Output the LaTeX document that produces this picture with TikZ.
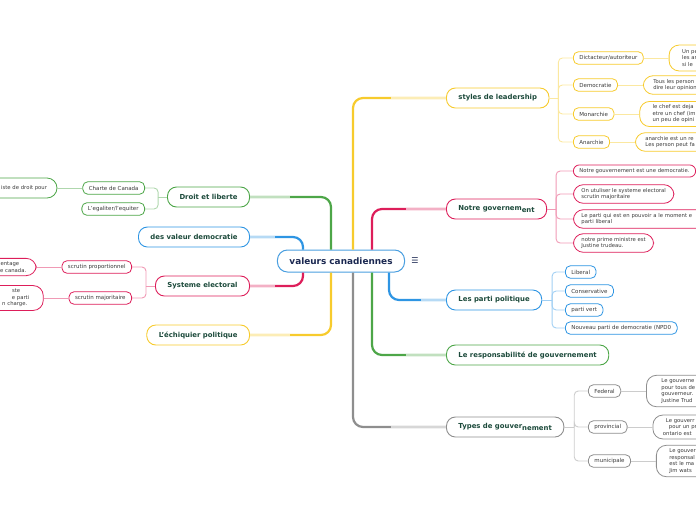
\documentclass[tikz,border=0pt]{standalone}
\usepackage{fontspec}
\setmainfont{DejaVu Sans}
\usetikzlibrary{positioning}
\definecolor{mmYellow}{HTML}{F7CB2D}
\definecolor{mmRed}{HTML}{DD1E5A}
\definecolor{mmBlue}{HTML}{2E95E3}
\definecolor{mmGreen}{HTML}{4DA648}
\definecolor{mmGray}{HTML}{8E8E8E}
\definecolor{rootBlue}{HTML}{4A9FE0}
\definecolor{textGreen}{HTML}{1C4A3B}
\definecolor{textNavy}{HTML}{1B2851}
\definecolor{textDark}{HTML}{3A3A3A}

\begin{document}
\begin{tikzpicture}[x=1pt, y=-1pt,
    root/.style={rectangle, rounded corners=10pt, draw=rootBlue, fill=white,
      line width=1pt, minimum height=22pt, inner xsep=12pt,
      font=\fontsize{8.9}{10}\selectfont\bfseries, text=textNavy},
    topic/.style={rectangle, rounded corners=9pt, draw=#1, fill=white,
      line width=0.9pt, minimum height=20pt, inner xsep=12pt,
      font=\fontsize{6.9}{8}\selectfont\bfseries, text=textGreen},
    sub/.style={rectangle, rounded corners=5pt, draw=#1, fill=white,
      line width=0.8pt, minimum height=12.5pt, inner xsep=6pt,
      font=\fontsize{5.5}{6.5}\selectfont, text=textDark},
    note/.style={rectangle, rounded corners=10pt, draw=#1, fill=white,
      line width=0.8pt, inner xsep=10pt, inner ysep=3.5pt, align=left,
      font=\fontsize{5.3}{6.5}\selectfont, text=textDark},
    trunk/.style={line width=2.2pt, rounded corners=10pt, #1},
    pale/.style={preaction={draw=white, line width=2.6pt}, line width=1.4pt, #1!35},
    br/.style={line width=0.9pt, rounded corners=4pt, #1!45}]
    \useasboundingbox (0,0) rectangle (696,520);
    \clip (0,0) rectangle (696,520);

    \node[root] (root) at (341,261) {valeurs canadiennes};
    \node[right=5pt of root, inner sep=1pt, font=\fontsize{8}{8}\selectfont, text=textNavy] (menu) {☰};

    % right side
    \node[topic=mmYellow, anchor=west] (lead) at (446,98) {styles de leadership};
    \node[topic=mmRed, anchor=west] (gov) at (446,209) {Notre governem\raisebox{-1.5pt}{ent}};
    \node[topic=mmBlue, anchor=west] (parti) at (446,300) {Les parti politique};
    \node[topic=mmGreen, anchor=west] (resp) at (446,355) {Le responsabilité de gouvernement};
    \node[topic=mmGray, anchor=west] (types) at (446,427) {Types de gouver\raisebox{-1.5pt}{nement}};

    % left side
    \node[topic=mmGreen, anchor=east] (droit) at (250,197) {Droit et liberte};
    \node[topic=mmBlue, anchor=east] (dval) at (250,237) {des valeur democratie};
    \node[topic=mmRed, anchor=east] (sys) at (250,286) {Systeme electoral};
    \node[topic=mmYellow, anchor=east] (echiq) at (250,335) {L'échiquier politique};

    % styles de leadership
    \node[sub=mmYellow, anchor=west] (dict) at (573,58) {Dictacteur/autoriteur};
    \node[sub=mmYellow, anchor=west] (demo) at (573,85) {Democratie};
    \node[sub=mmYellow, anchor=west] (mona) at (573,114) {Monarchie};
    \node[sub=mmYellow, anchor=west] (anar) at (573,142) {Anarchie};
    \node[note=mmYellow, right=25pt of dict, text width=70pt, inner xsep=13pt, inner ysep=4.5pt] (dictN) {Un pe\\les ar\\si le};
    \node[note=mmYellow, right=25pt of demo, text width=70pt] (demoN) {Tous les person\\dire leur opinion};
    \node[note=mmYellow, right=25pt of mona, text width=70pt, inner xsep=13pt] (monaN) {le chef est deja\\etre un chef (im\\un peu de opini};
    \node[note=mmYellow, right=25pt of anar, text width=70pt] (anarN) {anarchie est un re\\Les person peut fa};

    % notre governement
    \node[note=mmRed, anchor=west, rounded corners=6pt, inner xsep=6pt] (g1) at (573,171) {Notre gouvernement est une democratie.};
    \node[note=mmRed, anchor=west, inner xsep=8pt] (g2) at (573,194) {On utuliser le systeme electoral\\scrutin majoritaire};
    \node[note=mmRed, anchor=west, inner xsep=8pt, text width=130pt] (g3) at (573,219) {Le parti qui est en pouvoir a le moment e\\parti liberal};
    \node[note=mmRed, anchor=west, inner xsep=8pt] (g4) at (573,243) {notre prime ministre est\\Justine trudeau.};

    % les parti
    \node[sub=mmBlue, anchor=west] (lib) at (565,272) {Liberal};
    \node[sub=mmBlue, anchor=west] (cons) at (565,291) {Conservative};
    \node[sub=mmBlue, anchor=west] (vert) at (565,310) {parti vert};
    \node[sub=mmBlue, anchor=west] (npd) at (565,328) {Nouveau parti de democratie (NPD0};

    % types de gouvernement
    \node[sub=mmGray, anchor=west] (fed) at (588,391) {Federal};
    \node[sub=mmGray, anchor=west] (prov) at (588,427) {provincial};
    \node[sub=mmGray, anchor=west] (muni) at (588,461) {municipale};
    \node[note=mmGray, right=25pt of fed, text width=60pt, inner xsep=15pt] (fedN) {Le gouverne\\pour tous de\\gouverneur.\\Justine Trud};
    \node[note=mmGray, right=25pt of prov, text width=60pt] (provN) {\hspace*{3pt}Le gouverr\\\hspace*{6pt}pour un pr\\ontario est};
    \node[note=mmGray, right=25pt of muni, text width=60pt, inner xsep=13pt] (muniN) {Le gouver\\responsal\\est le ma\\Jim wats};

    % droit et liberte
    \node[sub=mmGreen, anchor=east] (charte) at (145,188) {Charte de Canada};
    \node[sub=mmGreen, anchor=east] (egal) at (145,209) {L'egaliter/l'equiter};
    \node[note=mmGreen, left=25pt of charte, text width=60pt, align=right, minimum height=20pt] (charteN) {iste de droit pour};

    % systeme electoral
    \node[sub=mmRed, anchor=east] (prop) at (132,267) {scrutin proportionnel};
    \node[sub=mmRed, anchor=east] (majo) at (132,298) {scrutin majoritaire};
    \node[note=mmRed, left=25pt of prop, text width=50pt, align=right] (propN) {centage\makebox[7pt]{}\\e canada.};
    \node[note=mmRed, left=25pt of majo, text width=50pt, align=right, inner xsep=14pt] (majoN) {ste\makebox[9pt]{}\\e parti\\n charge.\makebox[2pt]{}};

    % branches from the centre
    \draw[trunk=mmYellow] ([xshift=12pt]root.north) |- (lead.west);
    \draw[pale=mmYellow] (lead.west) -- ++(-55,0);
    \draw[trunk=mmRed] ([xshift=31pt]root.north) |- (gov.west);
    \draw[pale=mmRed] (gov.west) -- ++(-40,0);
    \draw[trunk=mmBlue] ([xshift=48pt]root.south) |- (parti.west);
    \draw[pale=mmBlue] (parti.west) -- ++(-25,0);
    \draw[trunk=mmGreen] ([xshift=31pt]root.south) |- (resp.west);
    \draw[pale=mmGreen] (resp.west) -- ++(-40,0);
    \draw[trunk=mmGray] ([xshift=12pt]root.south) |- (types.west);
    \draw[pale=mmGray] (types.west) -- ++(-55,0);
    \draw[trunk=mmGreen] ([xshift=-10pt]root.north) |- (droit.east);
    \draw[pale=mmGreen] (droit.east) -- ++(40,0);
    \draw[trunk=mmBlue] ([xshift=-38pt]root.north) |- (dval.east);
    \draw[pale=mmBlue] (dval.east) -- ++(25,0);
    \draw[trunk=mmRed] ([xshift=-38pt]root.south) |- (sys.east);
    \draw[pale=mmRed] (sys.east) -- ++(25,0);
    \draw[trunk=mmYellow] ([xshift=-10pt]root.south) |- (echiq.east);
    \draw[pale=mmYellow] (echiq.east) -- ++(40,0);

    % sub branches
    \draw[br=mmYellow] (lead.east) -- ++(9,0) coordinate (leadB);
    \foreach \c in {dict,demo,mona,anar} \draw[br=mmYellow] (leadB) |- (\c.west);
    \foreach \a/\b in {dict/dictN,demo/demoN,mona/monaN,anar/anarN} \draw[br=mmYellow] (\a) -- (\b);
    \draw[br=mmRed] (gov.east) -- ++(9,0) coordinate (govB);
    \foreach \c in {g1,g2,g3,g4} \draw[br=mmRed] (govB) |- (\c.west);
    \draw[br=mmBlue] (parti.east) -- ++(10,0) coordinate (partiB);
    \foreach \c in {lib,cons,vert,npd} \draw[br=mmBlue] (partiB) |- (\c.west);
    \draw[br=mmGray] (types.east) -- ++(10,0) coordinate (typesB);
    \foreach \c in {fed,prov,muni} \draw[br=mmGray] (typesB) |- (\c.west);
    \foreach \a/\b in {fed/fedN,prov/provN,muni/muniN} \draw[br=mmGray] (\a) -- (\b);
    \draw[br=mmGreen] (droit.west) -- ++(-9,0) coordinate (droitB);
    \foreach \c in {charte,egal} \draw[br=mmGreen] (droitB) |- (\c.east);
    \draw[br=mmGreen] (charte) -- (charteN);
    \draw[br=mmRed] (sys.west) -- ++(-9,0) coordinate (sysB);
    \foreach \c in {prop,majo} \draw[br=mmRed] (sysB) |- (\c.east);
    \foreach \a/\b in {prop/propN,majo/majoN} \draw[br=mmRed] (\a) -- (\b);
  \end{tikzpicture}
\end{document}
